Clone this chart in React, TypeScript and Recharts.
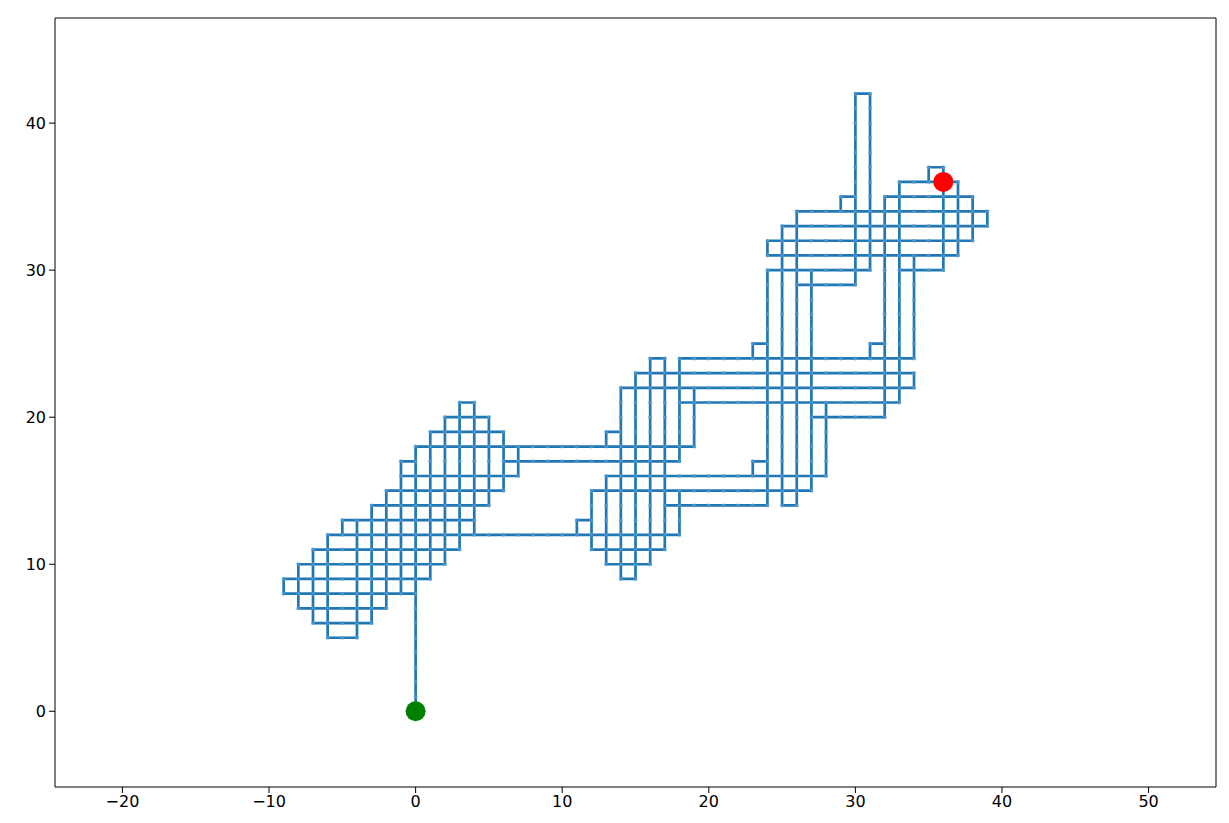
import {
  ComposedChart,
  Line,
  Scatter,
  XAxis,
  YAxis,
} from "recharts"

// horizontal runs of the walk: [y, xFrom, xTo]
const hRuns: [number, number, number][] = [
  [5, -6, -4],
  [6, -7, -3],
  [7, -8, -2],
  [8, -9, 0],
  [9, -9, 1],
  [9, 14, 15],
  [10, -8, 2],
  [10, 13, 16],
  [11, -7, 3],
  [11, 12, 17],
  [12, -6, 18],
  [13, -5, 4],
  [13, 11, 12],
  [14, -3, 5],
  [14, 17, 24],
  [14, 25, 26],
  [15, -2, 6],
  [15, 12, 27],
  [16, -1, 7],
  [16, 13, 28],
  [17, -1, 0],
  [17, 6, 18],
  [17, 23, 24],
  [18, 0, 19],
  [19, 1, 6],
  [19, 13, 14],
  [20, 2, 5],
  [20, 27, 32],
  [21, 3, 4],
  [21, 18, 33],
  [22, 14, 34],
  [23, 15, 34],
  [24, 16, 17],
  [24, 18, 34],
  [25, 23, 24],
  [25, 31, 32],
  [29, 26, 30],
  [30, 24, 31],
  [30, 33, 36],
  [31, 24, 37],
  [32, 24, 38],
  [33, 25, 39],
  [34, 26, 39],
  [35, 29, 30],
  [35, 32, 38],
  [36, 33, 37],
  [37, 35, 36],
  [42, 30, 31],
]

// vertical runs of the walk: [x, yFrom, yTo]
const vRuns: [number, number, number][] = [
  [-9, 8, 9],
  [-8, 7, 10],
  [-7, 6, 11],
  [-6, 5, 12],
  [-5, 12, 13],
  [-4, 5, 13],
  [-3, 6, 14],
  [-2, 7, 15],
  [-1, 8, 17],
  [0, 0, 18],
  [1, 9, 19],
  [2, 10, 20],
  [3, 11, 21],
  [4, 12, 21],
  [5, 14, 20],
  [6, 15, 19],
  [7, 16, 18],
  [11, 12, 13],
  [12, 11, 15],
  [13, 10, 16],
  [13, 18, 19],
  [14, 9, 22],
  [15, 9, 23],
  [16, 10, 24],
  [17, 11, 24],
  [18, 12, 15],
  [18, 17, 24],
  [19, 18, 22],
  [23, 16, 17],
  [23, 24, 25],
  [24, 14, 30],
  [24, 31, 32],
  [25, 14, 33],
  [26, 14, 34],
  [27, 15, 30],
  [28, 16, 21],
  [29, 34, 35],
  [30, 29, 42],
  [31, 24, 25],
  [31, 30, 42],
  [32, 20, 35],
  [33, 21, 36],
  [34, 22, 23],
  [34, 24, 31],
  [35, 36, 37],
  [36, 30, 37],
  [37, 31, 36],
  [38, 32, 35],
  [39, 33, 34],
]

const startPoint = [{ x: 0, y: 0 }]
const endPoint = [{ x: 36, y: 36 }]

const xTicks = [-20, -10, 0, 10, 20, 30, 40, 50]
const yTicks = [0, 10, 20, 30, 40]
const xDomain = [-24.6, 54.6]
const yDomain = [-5.15, 47.15]

// polyline with null breaks between runs
const pathData: { x: number; y: number | null }[] = []
hRuns.forEach(([y, a, b]) => {
  pathData.push({ x: a, y }, { x: b, y }, { x: b, y: null })
})
vRuns.forEach(([x, a, b]) => {
  pathData.push({ x, y: a }, { x, y: b }, { x, y: null })
})

// each unit step of the walk gets a marker
const seen = new Set<string>()
const stepPoints: { x: number; y: number }[] = []
const addPt = (x: number, y: number) => {
  const k = x + "," + y
  if (!seen.has(k)) {
    seen.add(k)
    stepPoints.push({ x, y })
  }
}
hRuns.forEach(([y, a, b]) => {
  for (let x = a; x <= b; x++) addPt(x, y)
})
vRuns.forEach(([x, a, b]) => {
  for (let y = a; y <= b; y++) addPt(x, y)
})

const fmt = (v: number) => (v < 0 ? "\u2212" + Math.abs(v) : String(v))
const tickStyle = { fill: "#000", fontSize: 16, fontFamily: "DejaVu Sans" }

const App = () => {
  return (
    <div style={{ width: 1229, height: 823, background: "#fff" }}>
      <style>{`body{margin:0}`}</style>
      <ComposedChart width={1229} height={823} margin={{ top: 17, right: 12, bottom: 0, left: 0 }}>
        <XAxis
          dataKey="x"
          type="number"
          domain={xDomain}
          ticks={xTicks}
          tickFormatter={fmt}
          allowDataOverflow
          height={36}
          tick={tickStyle}
          tickMargin={3}
          stroke="#000"
          tickLine={{ stroke: "#000" }}
        />
        <XAxis
          xAxisId="top"
          orientation="top"
          type="number"
          domain={xDomain}
          allowDataOverflow
          height={1}
          tick={false}
          tickLine={false}
          stroke="#000"
        />
        <YAxis
          dataKey="y"
          type="number"
          domain={yDomain}
          ticks={yTicks}
          tickFormatter={fmt}
          allowDataOverflow
          width={55}
          tick={tickStyle}
          tickMargin={3}
          stroke="#000"
          tickLine={{ stroke: "#000" }}
        />
        <YAxis
          yAxisId="right"
          orientation="right"
          type="number"
          domain={yDomain}
          allowDataOverflow
          width={1}
          tick={false}
          tickLine={false}
          stroke="#000"
        />
        <Line
          data={pathData}
          dataKey="y"
          type="linear"
          stroke="#1f77b4"
          strokeWidth={2.7}
          strokeLinecap="square"
          dot={false}
          activeDot={false}
          connectNulls={false}
          isAnimationActive={false}
        />
        <Scatter
          data={stepPoints}
          fill="#1f77b4"
          isAnimationActive={false}
          shape={(p: any) => <circle cx={p.cx} cy={p.cy} r={2} fill="#5a9bcc" fillOpacity={0.7} />}
        />
        <Scatter
          data={startPoint}
          fill="#008000"
          isAnimationActive={false}
          shape={(p: any) => <circle cx={p.cx} cy={p.cy} r={10} fill="#008000" />}
        />
        <Scatter
          data={endPoint}
          fill="#ff0000"
          isAnimationActive={false}
          shape={(p: any) => <circle cx={p.cx} cy={p.cy} r={10} fill="#ff0000" />}
        />
      </ComposedChart>
    </div>
  )
}

export default App
